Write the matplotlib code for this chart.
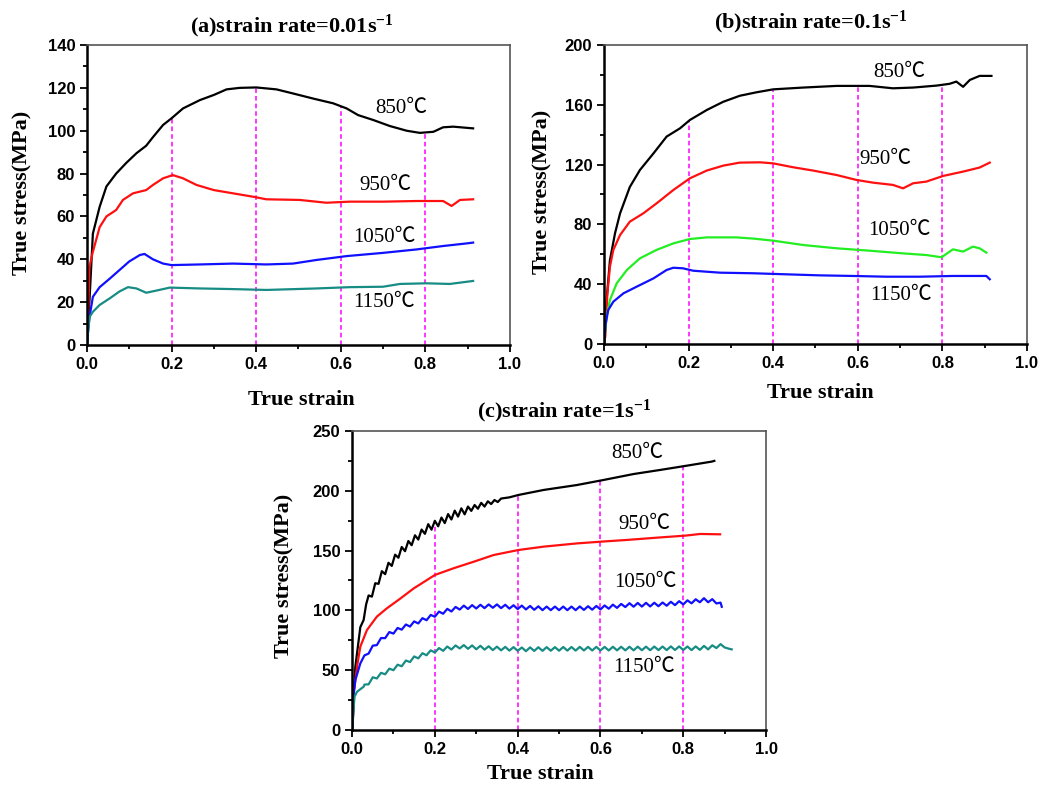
import numpy as np
import matplotlib.pyplot as plt
from matplotlib.ticker import MultipleLocator, FormatStrFormatter

plt.rcParams['mathtext.fontset'] = 'custom'
plt.rcParams['mathtext.rm'] = 'Liberation Serif:bold'
plt.rcParams['mathtext.it'] = 'Liberation Serif:bold'
plt.rcParams['mathtext.bf'] = 'Liberation Serif:bold'

temps = ["850℃", "950℃", "1050℃", "1150℃"]

# ---------- (a) strain rate 0.01 s-1 ----------
a850_x = [0, 0.002, 0.006, 0.014, 0.03, 0.046, 0.069, 0.093, 0.117, 0.14, 0.156, 0.18, 0.2, 0.227,
          0.267, 0.3, 0.33, 0.361, 0.4, 0.448, 0.487, 0.535, 0.582, 0.614, 0.641, 0.677, 0.716,
          0.756, 0.787, 0.819, 0.842, 0.866, 0.913]
a850_y = [0, 10, 21, 52, 64.5, 74, 80, 85, 89.5, 93, 97, 102.7, 105.8, 110.4,
          114.3, 116.7, 119.3, 120, 120.2, 119.3, 117.4, 115, 112.8, 110.4, 107.3, 105, 102.2,
          100, 99, 99.5, 101.6, 101.9, 101.1]
a950_x = [0, 0.002, 0.006, 0.013, 0.03, 0.046, 0.069, 0.085, 0.109, 0.14, 0.156, 0.18, 0.203, 0.227,
          0.259, 0.3, 0.345, 0.393, 0.424, 0.503, 0.566, 0.621, 0.7, 0.779, 0.842, 0.862, 0.882, 0.913]
a950_y = [0, 10, 36.5, 42.8, 55, 60, 63, 67.7, 70.8, 72.3, 74.7, 77.8, 79.3, 77.8,
          74.7, 72.3, 70.8, 69.2, 68, 67.7, 66.4, 66.9, 66.9, 67.2, 67.2, 64.9, 67.7, 68]
a1050_x = [0, 0.002, 0.006, 0.014, 0.03, 0.054, 0.077, 0.1, 0.125, 0.136, 0.156, 0.18, 0.2, 0.267,
           0.345, 0.424, 0.487, 0.543, 0.614, 0.7, 0.779, 0.842, 0.897, 0.913]
a1050_y = [0, 5, 13, 22.5, 27, 31, 35, 39, 42, 42.5, 40, 38, 37.3, 37.6,
           38, 37.6, 38, 39.7, 41.5, 43, 44.6, 46.2, 47.4, 47.8]
a1150_x = [0, 0.002, 0.006, 0.014, 0.03, 0.054, 0.077, 0.097, 0.117, 0.14, 0.164, 0.196, 0.267,
           0.345, 0.424, 0.543, 0.621, 0.7, 0.74, 0.803, 0.858, 0.913]
a1150_y = [0, 5, 13, 15.5, 18.7, 21.8, 25, 27, 26.4, 24.4, 25.4, 26.8, 26.4,
           26.1, 25.7, 26.4, 27, 27.2, 28.5, 28.8, 28.5, 29.9]

# ---------- (b) strain rate 0.1 s-1 ----------
b850_x = [0, 0.006, 0.014, 0.026, 0.038, 0.061, 0.085, 0.117, 0.148, 0.18, 0.203, 0.243, 0.282,
          0.321, 0.36, 0.4, 0.471, 0.55, 0.628, 0.683, 0.731, 0.786, 0.817, 0.833, 0.849, 0.865,
          0.888, 0.916]
b850_y = [0, 29, 56, 74, 87.4, 105, 116.4, 127.5, 138.7, 144.3, 149.8, 156.5, 162,
          166, 168.3, 170.3, 171.5, 172.6, 172.6, 171, 171.5, 172.8, 174, 175.5, 172, 176.6,
          179.3, 179.3]
b950_x = [0, 0.003, 0.008, 0.014, 0.022, 0.038, 0.061, 0.093, 0.124, 0.164, 0.203, 0.243, 0.282,
          0.321, 0.369, 0.4, 0.447, 0.494, 0.55, 0.597, 0.636, 0.683, 0.707, 0.731, 0.762, 0.802,
          0.849, 0.888, 0.912]
b950_y = [0, 5, 34, 51.7, 62.9, 72.9, 81.8, 87.4, 94, 103, 110.8, 116, 119.3,
          121.3, 121.5, 120.8, 118.2, 116, 113, 109.7, 107.9, 106.4, 104.1, 107.5, 108.6, 112.4,
          115.3, 118, 121.3]
b1050_x = [0, 0.006, 0.014, 0.03, 0.054, 0.085, 0.124, 0.164, 0.203, 0.243, 0.313, 0.353, 0.4,
           0.471, 0.55, 0.628, 0.707, 0.762, 0.798, 0.825, 0.849, 0.872, 0.888, 0.904]
b1050_y = [0, 18, 29.4, 40.6, 49.5, 57.3, 62.9, 67.3, 70.2, 71.3, 71.3, 70.5, 69.1,
           66.2, 64, 62.4, 60.6, 59.5, 58, 63.3, 61.8, 65.1, 64, 61.1]
b1150_x = [0, 0.004, 0.01, 0.022, 0.046, 0.077, 0.117, 0.148, 0.164, 0.187, 0.211, 0.274, 0.353,
           0.431, 0.51, 0.589, 0.668, 0.746, 0.825, 0.904, 0.912]
b1150_y = [0, 13.8, 22.7, 28.3, 33.9, 38.3, 43.9, 49.5, 51, 50.6, 49, 47.7, 47.3,
           46.6, 45.9, 45.5, 45, 45, 45.5, 45.5, 43.3]

# ---------- (c) strain rate 1 s-1 ----------
c850_x = [0, 0.002, 0.004, 0.008, 0.012, 0.016, 0.02, 0.028, 0.034,
          0.040, 0.048, 0.056, 0.064, 0.072, 0.080, 0.088, 0.096, 0.104, 0.112, 0.120,
          0.128, 0.136, 0.144, 0.152, 0.160, 0.168, 0.176, 0.184, 0.192, 0.200,
          0.208, 0.216, 0.224, 0.232, 0.240, 0.248, 0.256, 0.264, 0.272, 0.280,
          0.288, 0.296, 0.304, 0.312, 0.320, 0.328, 0.336, 0.344, 0.352, 0.360,
          0.38, 0.402, 0.463, 0.543, 0.607, 0.68, 0.744, 0.809, 0.869, 0.875]
c850_y = [0, 8, 31, 53, 64, 75, 86, 92, 105,
          112.5, 111.5, 122.7, 122.2, 132.8, 130.3, 139.8, 137.2, 146.6, 144, 153,
          149.5, 158, 154.5, 162.8, 159.2, 167.6, 164, 172.1, 167.5, 174.9,
          170.3, 177.6, 173, 180.5, 176, 183.4, 178.4, 185.3, 180.3, 186.8,
          183.2, 188.1, 185, 189.9, 186.8, 191.2, 188.9, 192.3, 190.6, 193.5,
          194.5, 196.5, 200.7, 204.8, 209, 214, 217.4, 221, 224.4, 225]
c950_x = [0, 0.002, 0.004, 0.012, 0.02, 0.036, 0.06, 0.084, 0.117, 0.149, 0.181, 0.2, 0.245,
          0.294, 0.342, 0.402, 0.463, 0.543, 0.603, 0.664, 0.744, 0.805, 0.841, 0.889]
c950_y = [0, 10, 30.7, 53, 69.7, 83.6, 94.8, 101.7, 110, 118.4, 125.4, 129.6, 135.2,
          140.7, 146.3, 150.5, 153.3, 156, 157.5, 158.9, 161, 162.5, 163.9, 163.6]
c1050_x = [0, 0.002, 0.004, 0.008, 0.02,
           0.03, 0.04, 0.05, 0.06, 0.07, 0.08, 0.09, 0.10, 0.11, 0.12,
           0.13, 0.14, 0.15, 0.16, 0.17, 0.18, 0.19, 0.20, 0.21, 0.22,
           0.23, 0.24, 0.25, 0.26, 0.27, 0.28, 0.29, 0.30, 0.31, 0.32,
           0.33, 0.34, 0.35, 0.36, 0.37, 0.38, 0.39, 0.40, 0.41, 0.42,
           0.43, 0.44, 0.45, 0.46, 0.47, 0.48, 0.49, 0.50, 0.51, 0.52,
           0.53, 0.54, 0.55, 0.56, 0.57, 0.58, 0.59, 0.60, 0.61, 0.62,
           0.63, 0.64, 0.65, 0.66, 0.67, 0.68, 0.69, 0.70, 0.71, 0.72,
           0.73, 0.74, 0.75, 0.76, 0.77, 0.78, 0.79, 0.80, 0.81, 0.82,
           0.83, 0.84, 0.85, 0.86, 0.87, 0.88, 0.89, 0.893]
c1050_y = [0, 8, 30.7, 41.8, 55.7,
           62.4, 63.9, 70.5, 71.0, 76.9, 76.8, 81.9, 80.6, 85.3, 83.9,
           88.2, 86.5, 90.8, 89.1, 93.5, 91.8, 96.2, 94.7, 99.0, 97.2,
           101.3, 99.1, 102.9, 100.7, 104.0, 101.2, 104.4, 101.6, 104.7, 101.9,
           105.0, 102.2, 105.0, 101.9, 104.7, 101.5, 104.3, 101.1, 104.0, 100.8,
           103.7, 100.5, 103.4, 100.2, 103.2, 100.2, 103.2, 100.2, 103.2, 100.2,
           103.2, 100.2, 103.3, 100.4, 103.5, 100.6, 103.7, 100.8, 104.1, 101.4,
           104.8, 102.1, 105.4, 102.8, 106.0, 103.1, 106.2, 103.2, 106.3, 103.3,
           106.4, 103.5, 106.6, 103.9, 107.2, 104.4, 107.7, 105.0, 108.4, 105.9,
           109.3, 106.8, 110.2, 106.8, 109.4, 105.8, 106.5, 103]
c1150_x = [0, 0.002, 0.006, 0.012, 0.028,
           0.03, 0.04, 0.05, 0.06, 0.07, 0.08, 0.09, 0.10, 0.11, 0.12,
           0.13, 0.14, 0.15, 0.16, 0.17, 0.18, 0.19, 0.20, 0.21, 0.22,
           0.23, 0.24, 0.25, 0.26, 0.27, 0.28, 0.29, 0.30, 0.31, 0.32,
           0.33, 0.34, 0.35, 0.36, 0.37, 0.38, 0.39, 0.40, 0.41, 0.42,
           0.43, 0.44, 0.45, 0.46, 0.47, 0.48, 0.49, 0.50, 0.51, 0.52,
           0.53, 0.54, 0.55, 0.56, 0.57, 0.58, 0.59, 0.60, 0.61, 0.62,
           0.63, 0.64, 0.65, 0.66, 0.67, 0.68, 0.69, 0.70, 0.71, 0.72,
           0.73, 0.74, 0.75, 0.76, 0.77, 0.78, 0.79, 0.80, 0.81, 0.82,
           0.83, 0.84, 0.85, 0.86, 0.87, 0.88, 0.89, 0.90, 0.91, 0.917]
c1150_y = [0, 11, 27.9, 32, 36.2,
           38.0, 38.2, 44.1, 43.1, 47.8, 46.6, 51.3, 50.0, 54.6, 53.3,
           58.1, 56.8, 61.5, 59.9, 64.2, 62.5, 66.6, 64.8, 68.5, 66.2,
           69.8, 67.3, 70.7, 68.2, 71.0, 67.9, 70.7, 67.5, 70.4, 67.2,
           70.0, 66.8, 69.7, 66.6, 69.5, 66.4, 69.3, 66.2, 69.0, 65.9,
           69.1, 66.1, 69.2, 66.2, 69.3, 66.3, 69.3, 66.3, 69.4, 66.4,
           69.4, 66.4, 69.5, 66.5, 69.5, 66.5, 69.5, 66.5, 69.5, 66.5,
           69.6, 66.6, 69.6, 66.6, 69.6, 66.6, 69.7, 66.7, 69.7, 66.7,
           69.8, 66.8, 69.8, 66.8, 69.9, 66.9, 69.9, 66.9, 69.8, 66.8,
           69.9, 67.0, 70.3, 67.4, 70.8, 68.5, 71.8, 69.0, 68.0, 67.4]

guide_x = [0.2, 0.4, 0.6, 0.8]

panels = [
    dict(title=r"(a)strain rate=0.01s$^{-1}$",
         curves=[(a850_x, a850_y), (a950_x, a950_y), (a1050_x, a1050_y), (a1150_x, a1150_y)],
         colors=["black", "#ff1010", "#1010ff", "#178c84"],
         ylim=140, ymaj=20, ymin=10,
         labels=[(0.744, 110.4), (0.706, 74.4), (0.703, 50.2), (0.703, 19.9)]),
    dict(title=r"(b)strain rate=0.1s$^{-1}$",
         curves=[(b850_x, b850_y), (b950_x, b950_y), (b1050_x, b1050_y), (b1150_x, b1150_y)],
         colors=["black", "#ff1010", "#22ee22", "#1010ff"],
         ylim=200, ymaj=40, ymin=20,
         labels=[(0.697, 181.7), (0.666, 123.7), (0.698, 75.8), (0.702, 32.3)]),
    dict(title=r"(c)strain rate=1s$^{-1}$",
         curves=[(c850_x, c850_y), (c950_x, c950_y), (c1050_x, c1050_y), (c1150_x, c1150_y)],
         colors=["black", "#ff1010", "#1010ff", "#178c84"],
         ylim=250, ymaj=50, ymin=25,
         labels=[(0.689, 231.3), (0.706, 172.2), (0.708, 123.5), (0.705, 52.4)]),
]

# axes boxes in figure fraction, title/label positions
boxes = [[0.0829, 0.5616, 0.4032, 0.3812],
         [0.5758, 0.5629, 0.4032, 0.3800],
         [0.3356, 0.0724, 0.3947, 0.3800]]
title_pos = [(0.278, 0.966), (0.773, 0.972), (0.538, 0.477)]
xlab_pos = [(0.287, 0.492), (0.782, 0.501), (0.515, 0.017)]
ylab_pos = [(0.021, 0.755), (0.517, 0.756), (0.271, 0.268)]

serif = ['Liberation Serif', 'Noto Sans CJK SC', 'DejaVu Serif']

fig = plt.figure(figsize=(10.49, 7.87), dpi=100)

for p, box, tp, xp, yp in zip(panels, boxes, title_pos, xlab_pos, ylab_pos):
    ax = fig.add_axes(box)
    top_x, top_y = p["curves"][0]
    ax.vlines(guide_x, 0, np.interp(guide_x, top_x, top_y), colors="#ff00ff",
              linestyles=(0, (3, 2)), linewidth=1.1, zorder=1)
    for (x, y), c in zip(p["curves"], p["colors"]):
        ax.plot(x, y, color=c, linewidth=1.6, zorder=2)
    for (lx, ly), t in zip(p["labels"], temps):
        ax.text(lx, ly, t, ha="center", va="center", fontsize=15, family=serif)

    ax.set_xlim(0, 1.0)
    ax.set_ylim(0, p["ylim"])
    ax.xaxis.set_major_locator(MultipleLocator(0.2))
    ax.xaxis.set_minor_locator(MultipleLocator(0.1))
    ax.xaxis.set_major_formatter(FormatStrFormatter("%.1f"))
    ax.yaxis.set_major_locator(MultipleLocator(p["ymaj"]))
    ax.yaxis.set_minor_locator(MultipleLocator(p["ymin"]))
    ax.tick_params(which="both", direction="out", top=False, right=False, width=1.3)
    ax.tick_params(which="major", length=5, labelsize=12)
    ax.tick_params(which="minor", length=3)
    for lab in ax.get_xticklabels() + ax.get_yticklabels():
        lab.set_fontweight("bold")
        lab.set_family("Liberation Sans")
    for s in ["left", "bottom"]:
        ax.spines[s].set_linewidth(1.8)
        ax.spines[s].set_color("black")
    for s in ["top", "right"]:
        ax.spines[s].set_linewidth(1.2)
        ax.spines[s].set_color("#555555")

    fig.text(tp[0], tp[1], p["title"], ha="center", va="center", fontsize=16,
             fontweight="bold", family=serif)
    fig.text(xp[0], xp[1], "True strain", ha="center", va="center", fontsize=16,
             fontweight="bold", family=serif)
    fig.text(yp[0], yp[1], "True stress(MPa)", ha="center", va="center", fontsize=16,
             fontweight="bold", family=serif, rotation=90)

fig.savefig("out.png", dpi=100)
